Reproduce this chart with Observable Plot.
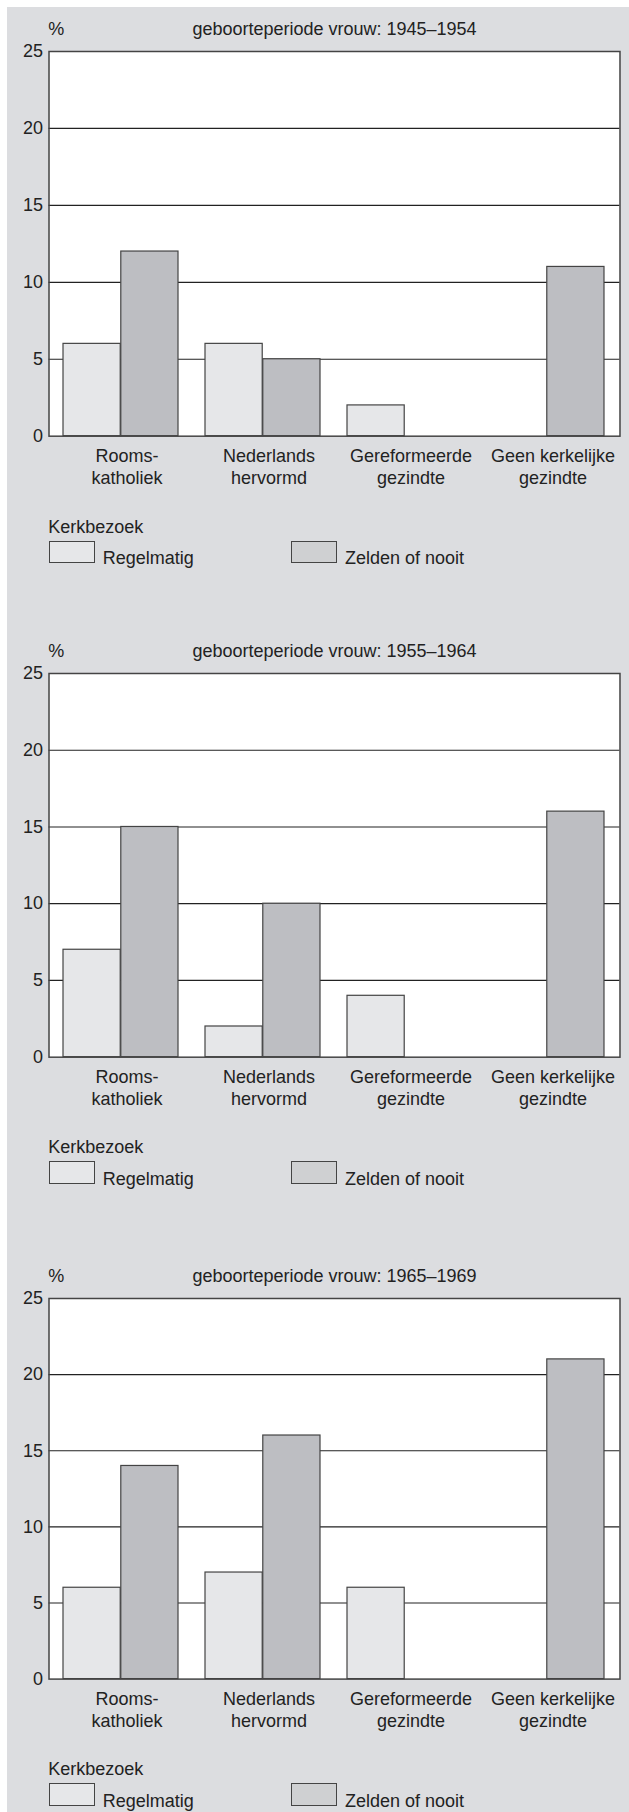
<!DOCTYPE html>
<html><head><meta charset="utf-8">
<script src="https://cdn.jsdelivr.net/npm/d3@7"></script>
<script src="https://cdn.jsdelivr.net/npm/@observablehq/plot@0.6"></script>
<style>
html,body{margin:0;padding:0;background:#fff;}
body{width:629px;height:1812px;position:relative;overflow:hidden;font-family:"Liberation Sans",Arial,Helvetica,sans-serif;color:#222;}
#bg{position:absolute;left:7px;top:7px;width:622px;height:1805px;background:#dcdde0;}
.t{position:absolute;font-size:18px;line-height:18px;white-space:nowrap;}
.box{position:absolute;box-sizing:border-box;border:1.3px solid #444;}
.plot{position:absolute;left:0;}
</style></head><body><div id="bg"></div>
<script>
// ---- data ----
const categories = ["Rooms-\nkatholiek", "Nederlands\nhervormd", "Gereformeerde\ngezindte", "Geen kerkelijke\ngezindte"];
const series = ["Regelmatig", "Zelden of nooit"];
const periods = ["1945–1954", "1955–1964", "1965–1969"];
const regelmatig1945 = [6, 6, 2, 0];
const zelden1945 = [12, 5, 0, 11];
const regelmatig1955 = [7, 2, 4, 0];
const zelden1955 = [15, 10, 0, 16];
const regelmatig1965 = [6, 7, 6, 0];
const zelden1965 = [14, 16, 0, 21];
const yTicks = [0, 5, 10, 15, 20, 25];
const titlePrefix = "geboorteperiode vrouw: ";
const yUnit = "%";
const legendTitle = "Kerkbezoek";

// ---- layout ----
const panels = [
  {period: periods[0], reg: regelmatig1945, zel: zelden1945, top: 51, h: 384.7},
  {period: periods[1], reg: regelmatig1955, zel: zelden1955, top: 672.7, h: 383.7},
  {period: periods[2], reg: regelmatig1965, zel: zelden1965, top: 1297.7, h: 380.6}
];
const W = 629, ml = 48.5, mr = 9.5, mt = 12, mb = 54;
const padIn = 0.19, padOut = 0.096;
const step = (W - ml - mr) / (categories.length - padIn + 2 * padOut);
const half = step * (1 - padIn) / 2;
const lightFill = "#e6e7e9", darkFill = "#bdbec2", legendDark = "#cfd0d2";
const font = '"Liberation Sans", Arial, Helvetica, sans-serif';
const BASE = 15.24; // baseline offset for 18px text with 18px line-height

function addText(str, left, baseline, center) {
  const d = document.createElement("div");
  d.className = "t";
  d.textContent = str;
  d.style.left = left + "px";
  d.style.top = (baseline - BASE) + "px";
  if (center) d.style.transform = "translateX(-50%)";
  document.body.appendChild(d);
}
function addBox(left, top, w, h, fill) {
  const d = document.createElement("div");
  d.className = "box";
  Object.assign(d.style, {left: left + "px", top: top + "px", width: w + "px", height: h + "px", background: fill});
  document.body.appendChild(d);
}

for (const p of panels) {
  const rows = categories.flatMap((c, i) => [
    {cat: c, series: series[0], value: p.reg[i]},
    {cat: c, series: series[1], value: p.zel[i]}
  ]);
  const chart = Plot.plot({
    width: W,
    height: mt + p.h + mb,
    marginTop: mt, marginBottom: mb, marginLeft: ml, marginRight: mr,
    style: {fontSize: "18px", fontFamily: font, color: "#222", background: "transparent", overflow: "visible"},
    x: {domain: categories, paddingInner: padIn, paddingOuter: padOut, label: null},
    y: {domain: [0, 25], label: null},
    marks: [
      Plot.frame({fill: "white", stroke: "none"}),
      Plot.ruleY(yTicks.filter(t => t > 0 && t < 25), {stroke: "#222", strokeWidth: 1.2}),
      Plot.barY(rows, {filter: d => d.series === series[0] && d.value > 0, x: "cat", y1: 0, y2: "value", fill: lightFill, stroke: "#444", strokeWidth: 1.2, insetRight: half}),
      Plot.barY(rows, {filter: d => d.series === series[1] && d.value > 0, x: "cat", y1: 0, y2: "value", fill: darkFill, stroke: "#444", strokeWidth: 1.2, insetLeft: half}),
      Plot.frame({stroke: "#444", strokeWidth: 1.5}),
      Plot.axisY({ticks: yTicks, tickSize: 0, tickPadding: 6, fontSize: 18, label: null}),
      Plot.axisX({tickSize: 0, tickPadding: 11, lineHeight: 1.19, dx: 6, fontSize: 18, label: null})
    ]
  });
  chart.classList.add("plot");
  chart.style.top = (p.top - mt) + "px";
  chart.style.position = "absolute";
  document.body.appendChild(chart);

  // title row
  addText(yUnit, 48.3, p.top - 15.3, false);
  addText(titlePrefix + p.period, 334.5, p.top - 15.3, true);

  // legend
  const b = p.top + p.h;
  addText(legendTitle, 48.3, b + 97.2, false);
  addBox(49, b + 105, 46.3, 22.6, lightFill);
  addText(series[0], 102.7, b + 128.6, false);
  addBox(291, b + 105, 46.3, 22.6, legendDark);
  addText(series[1], 345, b + 128.6, false);
}
</script>
</body></html>
